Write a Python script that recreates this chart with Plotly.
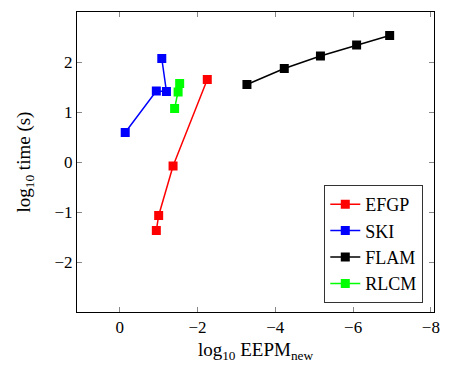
import plotly.graph_objects as go

efgp_x = [-0.94, -1.0, -1.37, -2.25]
efgp_y = [-1.37, -1.07, -0.08, 1.65]
ski_x = [-0.14, -0.94, -1.2, -1.08]
ski_y = [0.59, 1.42, 1.41, 2.07]
flam_x = [-3.27, -4.23, -5.16, -6.09, -6.94]
flam_y = [1.55, 1.87, 2.12, 2.34, 2.53]
rlcm_x = [-1.41, -1.5, -1.54]
rlcm_y = [1.07, 1.40, 1.57]

series = [
    ("EFGP", efgp_x, efgp_y, "#ff0000"),
    ("SKI", ski_x, ski_y, "#0000ff"),
    ("FLAM", flam_x, flam_y, "#000000"),
    ("RLCM", rlcm_x, rlcm_y, "#00ff00"),
]

font_family = "'Liberation Serif', 'Times New Roman', Times, serif"

fig = go.Figure()
for name, xs, ys, c in series:
    fig.add_trace(go.Scatter(
        x=xs, y=ys, name=name, mode="lines+markers",
        line=dict(color=c, width=1.5),
        marker=dict(symbol="square", size=9, color=c),
    ))

axis_common = dict(
    showgrid=False, zeroline=False,
    showline=True, linecolor="black", linewidth=1, mirror="ticks",
    ticks="inside", ticklen=5, tickcolor="#888888",
    tickfont=dict(family=font_family, size=17, color="black"),
)

fig.update_layout(
    width=451, height=369,
    margin=dict(l=77, r=11, t=12, b=57),
    paper_bgcolor="white", plot_bgcolor="white",
    font=dict(family=font_family, size=17, color="black"),
    xaxis=dict(range=[1.1, -8.08], tickvals=[0, -2, -4, -6, -8],
               title=dict(text="log<sub>10</sub> EEPM<sub>new</sub>", standoff=6,
                          font=dict(family=font_family, size=19)),
               **axis_common),
    yaxis=dict(range=[-3, 3], tickvals=[-2, -1, 0, 1, 2],
               title=dict(text="log<sub>10</sub> time (s)", standoff=18,
                          font=dict(family=font_family, size=19)),
               **axis_common),
    legend=dict(x=0.97, y=0.03, xanchor="right", yanchor="bottom",
                bordercolor="#333333", borderwidth=1, bgcolor="white",
                font=dict(family=font_family, size=18),
                tracegroupgap=0, itemwidth=30),
    showlegend=True,
)

fig.write_html("out.html")
